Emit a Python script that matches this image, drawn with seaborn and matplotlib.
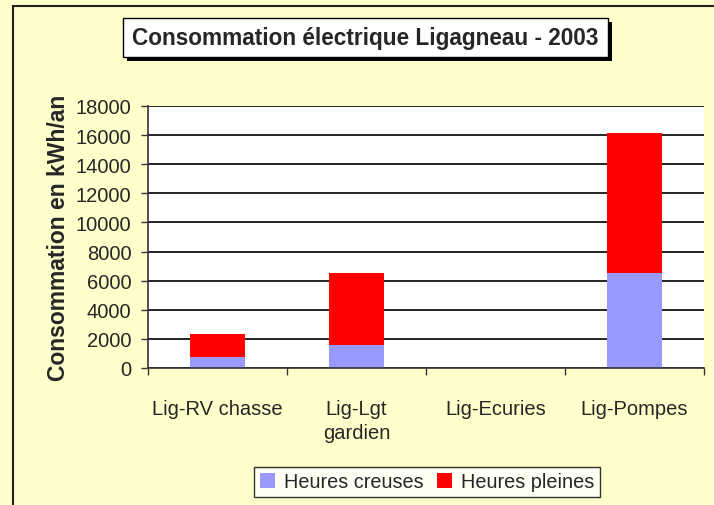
import matplotlib
matplotlib.use("Agg")
import matplotlib.pyplot as plt
from matplotlib.patches import Rectangle, Patch
import numpy as np
import pandas as pd
import seaborn as sns

CATEGORIES = ["Lig-RV chasse", "Lig-Lgt\ngardien", "Lig-Ecuries", "Lig-Pompes"]
HEURES_CREUSES = [750, 1600, 0, 6500]
HEURES_PLEINES = [1580, 4930, 0, 9650]
YTICKS = list(range(0, 18001, 2000))

BG = "#FFFFCC"
BLUE = "#9999FF"
RED = "#FF0000"

sns.set_theme(style="white")
plt.rcParams["font.family"] = ["Liberation Sans", "DejaVu Sans"]

df = pd.DataFrame({
    "site": CATEGORIES,
    "creuses": HEURES_CREUSES,
    "total": np.array(HEURES_CREUSES) + np.array(HEURES_PLEINES),
})

W, H = 714, 506
fig = plt.figure(figsize=(W / 100, H / 100), dpi=100, facecolor=BG)
ax = fig.add_axes([148 / W, 1 - 369 / H, (704 - 148) / W, (369 - 107) / H])
ax.set_facecolor("white")

sns.barplot(data=df, x="site", y="total", color=RED, width=0.4,
            saturation=1, linewidth=0, ax=ax)
sns.barplot(data=df, x="site", y="creuses", color=BLUE, width=0.4,
            saturation=1, linewidth=0, ax=ax)

ax.set_xlim(-0.5, 3.5)
ax.set_ylim(0, 18000)
ax.set_yticks(YTICKS)
ax.set_yticklabels([str(v) for v in YTICKS], fontsize=14.5)
ax.yaxis.grid(True, color="black", linewidth=1.2)
ax.set_axisbelow(True)
ax.tick_params(axis="y", which="major", direction="out", length=5,
               width=1, color="#333333", left=True, pad=7)
ax.set_xticks(range(len(CATEGORIES)))
ax.set_xticklabels(CATEGORIES, fontsize=14.5, linespacing=1.35)
ax.tick_params(axis="x", which="major", length=0, pad=22)
ax.set_xticks(np.arange(-0.5, 3.6, 1), minor=True)
ax.tick_params(axis="x", which="minor", direction="out", length=5,
               width=1, color="#333333", bottom=True)
for lbl in ax.get_xticklabels():
    lbl.set_verticalalignment("top")

for side in ["top", "right"]:
    ax.spines[side].set_visible(False)
for side in ["left", "bottom"]:
    ax.spines[side].set_color("#333333")
    ax.spines[side].set_linewidth(1.2)

ax.set_xlabel("")
ax.set_ylabel("Consommation en kWh/an", fontsize=16.5, fontweight="bold",
              labelpad=4)

# outer frame
fig.patches.append(Rectangle((13 / W, -0.1), 1.2, 1 - 7 / H + 0.1,
                             transform=fig.transFigure, fill=False,
                             edgecolor="#222222", linewidth=1.5))

# title box with shadow
bx0, bx1, by0, by1 = 123, 608, 19, 58
fig.patches.append(Rectangle(((bx0 + 4) / W, 1 - (by1 + 4) / H),
                             (bx1 - bx0) / W, (by1 - by0) / H,
                             transform=fig.transFigure, facecolor="black",
                             edgecolor="black", linewidth=0))
fig.patches.append(Rectangle((bx0 / W, 1 - by1 / H),
                             (bx1 - bx0) / W, (by1 - by0) / H,
                             transform=fig.transFigure, facecolor="white",
                             edgecolor="black", linewidth=1))
fig.text((bx0 + bx1) / 2 / W, 1 - (by0 + by1) / 2 / H,
         "Consommation électrique Ligagneau - 2003",
         ha="center", va="center", fontsize=16.3, fontweight="bold")

handles = [Patch(facecolor=BLUE, edgecolor="none", label="Heures creuses"),
           Patch(facecolor=RED, edgecolor="none", label="Heures pleines")]
leg = fig.legend(handles=handles, loc="center", ncol=2,
                 bbox_to_anchor=(427 / W, 1 - 483 / H), fontsize=14.3,
                 frameon=True, fancybox=False, shadow=False,
                 handlelength=0.75, handleheight=0.75, handletextpad=0.45,
                 columnspacing=0.7, borderpad=0.3, borderaxespad=0)
leg.get_frame().set_edgecolor("black")
leg.get_frame().set_linewidth(1)
leg.get_frame().set_facecolor("white")

fig.savefig("out.png", dpi=100, facecolor=BG)
